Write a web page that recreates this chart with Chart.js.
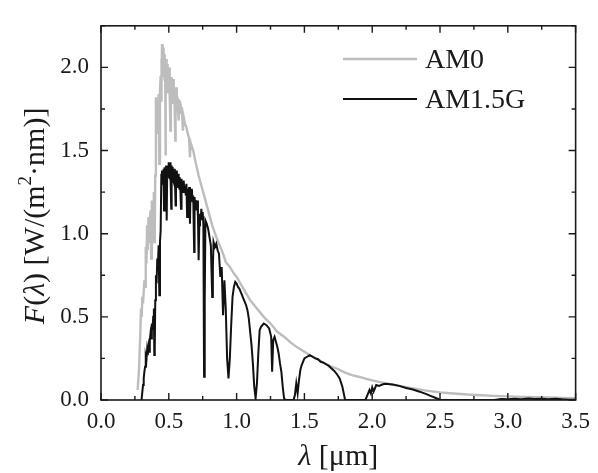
<!DOCTYPE html>
<html>
<head>
<meta charset="utf-8">
<script src="https://cdn.jsdelivr.net/npm/chart.js@4/dist/chart.umd.min.js"></script>
<style>
  html, body { margin: 0; padding: 0; background: #fff; }
  #wrap { width: 598px; height: 473px; }
</style>
</head>
<body>
<div id="wrap"><canvas id="c" width="598" height="473"></canvas></div>
<script>
// Extraterrestrial solar spectrum (AM0), wavelength in µm, irradiance in W/(m²·nm)
const wavelengthAM0 = [
  0.270, 0.280, 0.290, 0.295, 0.300, 0.305, 0.310, 0.320, 0.325, 0.330,
  0.335, 0.340, 0.345, 0.350, 0.355, 0.360, 0.365, 0.370, 0.375, 0.380,
  0.385, 0.390, 0.393, 0.396, 0.397, 0.400, 0.405, 0.410, 0.415, 0.420,
  0.425, 0.430, 0.435, 0.440, 0.443, 0.445, 0.448, 0.450, 0.453, 0.455,
  0.458, 0.460, 0.463, 0.465, 0.468, 0.470, 0.473, 0.476, 0.478, 0.480,
  0.483, 0.485, 0.488, 0.490, 0.493, 0.495, 0.498, 0.500, 0.503, 0.505,
  0.508, 0.512, 0.515, 0.518, 0.520, 0.523, 0.525, 0.528, 0.530, 0.533,
  0.535, 0.538, 0.540, 0.543, 0.548, 0.550, 0.555, 0.558, 0.560, 0.563,
  0.565, 0.568, 0.572, 0.575, 0.580, 0.585, 0.590, 0.597, 0.604, 0.610,
  0.620, 0.630, 0.640, 0.650, 0.656, 0.660, 0.680,
  0.700, 0.720, 0.740, 0.760, 0.780, 0.800, 0.820, 0.850, 0.870, 0.900,
  0.920, 0.950, 0.980, 1.000, 1.050, 1.100, 1.150, 1.200, 1.250, 1.300,
  1.350, 1.400, 1.450, 1.500, 1.550, 1.600, 1.650, 1.700, 1.750, 1.800,
  1.850, 1.900, 1.950, 2.000, 2.100, 2.200, 2.300, 2.400, 2.500, 2.600,
  2.700, 2.800, 2.900, 3.000, 3.100, 3.200, 3.300, 3.400, 3.500
];
const fluxAM0 = [
  0.06, 0.18, 0.40, 0.55, 0.50, 0.62, 0.58, 0.72, 0.68, 0.92,
  0.82, 1.05, 0.90, 1.10, 0.95, 1.08, 1.14, 0.85, 1.20, 1.10,
  1.08, 1.25, 0.95, 1.12, 1.00, 1.35, 1.82, 1.60, 1.80, 1.72,
  1.84, 1.42, 1.86, 1.95, 1.80, 2.05, 1.92, 2.14, 2.00, 2.10,
  1.95, 2.12, 1.98, 2.06, 1.92, 2.08, 1.95, 1.47, 1.98, 2.05,
  1.90, 1.98, 1.85, 2.02, 1.88, 1.98, 1.86, 1.96, 1.85, 2.00,
  1.84, 1.62, 1.90, 1.82, 1.94, 1.80, 1.92, 1.78, 1.90, 1.80,
  1.93, 1.78, 1.87, 1.76, 1.56, 1.80, 1.88, 1.76, 1.84, 1.75,
  1.82, 1.74, 1.68, 1.80, 1.79, 1.72, 1.76, 1.73, 1.62, 1.70,
  1.66, 1.64, 1.60, 1.57, 1.46, 1.55, 1.50,
  1.42, 1.35, 1.29, 1.23, 1.17, 1.11, 1.05, 0.98, 0.94, 0.88,
  0.83, 0.80, 0.76, 0.74, 0.67, 0.60, 0.55, 0.50, 0.46, 0.41,
  0.38, 0.345, 0.315, 0.29, 0.265, 0.245, 0.22, 0.20, 0.185, 0.165,
  0.15, 0.14, 0.128, 0.118, 0.10, 0.085, 0.07, 0.056, 0.046, 0.039,
  0.033, 0.029, 0.025, 0.022, 0.019, 0.017, 0.015, 0.013, 0.011
];

// Terrestrial global tilt spectrum (AM1.5G)
const wavelengthAM15G = [
  0.295, 0.300, 0.305, 0.310, 0.315, 0.320, 0.325, 0.330, 0.335, 0.340,
  0.345, 0.350, 0.355, 0.360, 0.365, 0.370, 0.375, 0.380, 0.385, 0.390,
  0.393, 0.396, 0.397, 0.400, 0.405, 0.410, 0.415, 0.420, 0.425, 0.430,
  0.435, 0.440, 0.445, 0.448, 0.450, 0.453, 0.455, 0.458, 0.460, 0.463,
  0.465, 0.468, 0.470, 0.473, 0.475, 0.478, 0.480, 0.483, 0.486, 0.488,
  0.490, 0.493, 0.495, 0.498, 0.500, 0.503, 0.505, 0.508, 0.510, 0.513,
  0.518, 0.520, 0.522, 0.525, 0.527, 0.530, 0.533, 0.535, 0.538, 0.540,
  0.543, 0.545, 0.550, 0.553, 0.555, 0.558, 0.560, 0.563, 0.565, 0.568,
  0.570, 0.573, 0.575, 0.578, 0.580, 0.585, 0.590, 0.593, 0.595, 0.598,
  0.600, 0.605, 0.610, 0.615, 0.620, 0.625, 0.630, 0.635, 0.640, 0.645,
  0.650, 0.656, 0.660, 0.665, 0.670, 0.675, 0.680, 0.687, 0.690, 0.695,
  0.700, 0.705, 0.710, 0.715, 0.720, 0.725, 0.730, 0.735, 0.740, 0.745,
  0.750, 0.755, 0.760, 0.765, 0.770, 0.780, 0.790, 0.800, 0.810, 0.820,
  0.825, 0.830, 0.840, 0.850, 0.860, 0.870, 0.880, 0.890, 0.900, 0.910,
  0.920, 0.930, 0.940, 0.950, 0.960, 0.970, 0.980, 0.990, 1.000, 1.010,
  1.020, 1.030, 1.040, 1.050, 1.060, 1.070, 1.080, 1.090, 1.100, 1.110,
  1.120, 1.130, 1.140, 1.150, 1.160, 1.170, 1.180, 1.200, 1.220, 1.240,
  1.255, 1.262, 1.270, 1.280, 1.300, 1.310, 1.320, 1.330, 1.340, 1.350,
  1.360, 1.420, 1.430, 1.440, 1.450, 1.460, 1.470, 1.480, 1.500, 1.520,
  1.540, 1.560, 1.580, 1.600, 1.620, 1.640, 1.660, 1.680, 1.700, 1.720,
  1.740, 1.760, 1.780, 1.795, 1.800, 1.950, 1.960, 1.980, 1.990, 2.000,
  2.010, 2.030, 2.050, 2.080, 2.100, 2.150, 2.200, 2.250, 2.300, 2.350,
  2.400, 2.430, 2.460, 2.490, 2.500, 2.900, 2.950, 3.000, 3.050, 3.100,
  3.150, 3.200, 3.250, 3.300, 3.350, 3.400, 3.450, 3.500
];
const fluxAM15G = [
  0.00, 0.01, 0.05, 0.09, 0.13, 0.17, 0.20, 0.26, 0.24, 0.30,
  0.27, 0.32, 0.29, 0.36, 0.40, 0.37, 0.46, 0.42, 0.50, 0.55,
  0.27, 0.45, 0.30, 0.60, 0.75, 0.70, 0.85, 0.82, 0.93, 0.63,
  0.95, 1.02, 1.36, 1.30, 1.38, 1.31, 1.36, 1.30, 1.39, 1.32,
  1.14, 1.35, 1.40, 1.33, 1.38, 1.32, 1.41, 1.34, 1.08, 1.36,
  1.40, 1.33, 1.38, 1.34, 1.43, 1.35, 1.40, 1.34, 1.43, 1.33,
  1.15, 1.36, 1.41, 1.33, 1.38, 1.40, 1.32, 1.37, 1.31, 1.39,
  1.31, 1.36, 1.17, 1.34, 1.38, 1.30, 1.37, 1.30, 1.34, 1.28,
  1.36, 1.29, 1.32, 1.27, 1.34, 1.27, 1.15, 1.30, 1.33, 1.26,
  1.31, 1.25, 1.32, 1.25, 1.29, 1.23, 1.30, 1.10, 1.27, 1.22,
  1.28, 1.06, 1.26, 1.20, 1.27, 1.19, 1.23, 0.89, 1.22, 1.16,
  1.20, 1.14, 1.20, 1.10, 0.84, 1.05, 1.12, 1.08, 1.15, 1.09,
  1.13, 1.05, 0.14, 0.60, 1.08, 1.06, 1.03, 0.98, 0.93, 0.62,
  0.80, 0.95, 0.92, 0.94, 0.90, 0.88, 0.74, 0.80, 0.51, 0.72,
  0.55, 0.25, 0.13, 0.25, 0.45, 0.62, 0.68, 0.71, 0.70, 0.68,
  0.67, 0.65, 0.63, 0.61, 0.59, 0.57, 0.54, 0.49, 0.41, 0.33,
  0.22, 0.08, 0.01, 0.10, 0.28, 0.42, 0.44, 0.46, 0.45, 0.43,
  0.38, 0.17, 0.36, 0.38, 0.32, 0.28, 0.22, 0.17, 0.08, 0.01,
  0.00, 0.00, 0.03, 0.10, 0.04, 0.12, 0.18, 0.21, 0.25, 0.26,
  0.27, 0.26, 0.25, 0.245, 0.23, 0.225, 0.215, 0.205, 0.19, 0.175,
  0.155, 0.13, 0.08, 0.02, 0.00, 0.00, 0.02, 0.06, 0.04, 0.075,
  0.05, 0.09, 0.085, 0.095, 0.097, 0.093, 0.085, 0.072, 0.063, 0.05,
  0.035, 0.025, 0.015, 0.005, 0.00, 0.00, 0.006, 0.004, 0.008, 0.005,
  0.009, 0.006, 0.008, 0.005, 0.007, 0.004, 0.002, 0.001
];

const seriesNames = ['AM0', 'AM1.5G'];
const seriesColors = ['#bdbdbd', '#111111'];

// Axis extents and tick steps
const xRange = [0, 3.5];
const yRange = [0, 2.25];
const xMajorStep = 0.5, xMinorStep = 0.25;
const yMajorStep = 0.5, yMinorStep = 0.25;

const serif = '"Liberation Serif", "Times New Roman", serif';
const ink = '#1a1a1a';

function pairs(xs, ys) { return xs.map((x, i) => ({ x: x, y: ys[i] })); }
function isMajor(v, step) { return Math.abs(v / step - Math.round(v / step)) < 1e-6; }

// Frame plus inward tick marks on all four sides
const framePlugin = {
  id: 'frame',
  afterDraw(chart) {
    const { ctx, chartArea: a, scales } = chart;
    ctx.save();
    ctx.strokeStyle = ink;
    ctx.lineWidth = 1.6;
    ctx.strokeRect(a.left, a.top, a.right - a.left, a.bottom - a.top);
    ctx.lineWidth = 1.4;
    scales.x.ticks.forEach(t => {
      const px = scales.x.getPixelForValue(t.value);
      const len = isMajor(t.value, xMajorStep) ? 7 : 4;
      ctx.beginPath();
      ctx.moveTo(px, a.bottom); ctx.lineTo(px, a.bottom - len);
      ctx.moveTo(px, a.top); ctx.lineTo(px, a.top + len);
      ctx.stroke();
    });
    scales.y.ticks.forEach(t => {
      const py = scales.y.getPixelForValue(t.value);
      const len = isMajor(t.value, yMajorStep) ? 7 : 4;
      ctx.beginPath();
      ctx.moveTo(a.left, py); ctx.lineTo(a.left + len, py);
      ctx.moveTo(a.right, py); ctx.lineTo(a.right - len, py);
      ctx.stroke();
    });
    ctx.restore();
  }
};

// Draws a run of text pieces, each with its own style
function drawRich(ctx, pieces, x, y) {
  let total = 0;
  pieces.forEach(p => { ctx.font = p.font; p.w = ctx.measureText(p.text).width; total += p.w; });
  let cx = x - total / 2;
  pieces.forEach(p => {
    ctx.font = p.font;
    ctx.fillText(p.text, cx, y + (p.dy || 0));
    cx += p.w;
  });
}

// Axis titles with italic symbols and a superscript
const titlePlugin = {
  id: 'titles',
  afterDraw(chart) {
    const { ctx, chartArea: a } = chart;
    const reg = '30px ' + serif, ita = 'italic 30px ' + serif, sup = '19px ' + serif;
    ctx.save();
    ctx.fillStyle = ink;
    ctx.textBaseline = 'alphabetic';
    ctx.textAlign = 'left';
    drawRich(ctx, [
      { text: 'λ', font: ita },
      { text: ' [μm]', font: reg }
    ], (a.left + a.right) / 2, 465);
    ctx.translate(44, (a.top + a.bottom) / 2 + 3);
    ctx.rotate(-Math.PI / 2);
    drawRich(ctx, [
      { text: 'F', font: ita },
      { text: '(', font: reg },
      { text: 'λ', font: ita },
      { text: ') [W/(m', font: reg },
      { text: '2', font: sup, dy: -13 },
      { text: '·nm)]', font: reg }
    ], 0, 0);
    ctx.restore();
  }
};

// Legend drawn inside the plot area, upper right
const legendPlugin = {
  id: 'insideLegend',
  afterDraw(chart) {
    const { ctx } = chart;
    const rows = [59, 99];
    ctx.save();
    chart.data.datasets.forEach((ds, i) => {
      ctx.strokeStyle = ds.borderColor;
      ctx.lineWidth = ds.borderWidth;
      ctx.beginPath();
      ctx.moveTo(343, rows[i]); ctx.lineTo(417, rows[i]);
      ctx.stroke();
      ctx.fillStyle = ink;
      ctx.font = '28px ' + serif;
      ctx.textBaseline = 'middle';
      ctx.textAlign = 'left';
      ctx.fillText(ds.label, 425, rows[i] + 2);
    });
    ctx.restore();
  }
};

new Chart(document.getElementById('c'), {
  type: 'line',
  data: {
    datasets: [
      {
        label: seriesNames[0],
        data: pairs(wavelengthAM0, fluxAM0),
        borderColor: seriesColors[0],
        borderWidth: 2.4,
        pointRadius: 0,
        tension: 0,
        order: 2
      },
      {
        label: seriesNames[1],
        data: pairs(wavelengthAM15G, fluxAM15G),
        borderColor: seriesColors[1],
        borderWidth: 2,
        pointRadius: 0,
        tension: 0,
        order: 1
      }
    ]
  },
  options: {
    responsive: false,
    animation: false,
    devicePixelRatio: 1,
    layout: { padding: { left: 0, right: 14, top: 5, bottom: 0 } },
    plugins: {
      legend: { display: false },
      tooltip: { enabled: false }
    },
    scales: {
      x: {
        type: 'linear',
        min: xRange[0],
        max: xRange[1],
        grid: { display: false, drawTicks: false },
        border: { display: false },
        afterFit(scale) { scale.height = 73; },
        ticks: {
          stepSize: xMinorStep,
          autoSkip: false,
          maxRotation: 0,
          padding: 8,
          color: ink,
          font: { family: serif, size: 23 },
          callback: v => isMajor(v, xMajorStep) ? v.toFixed(1) : ''
        }
      },
      y: {
        type: 'linear',
        min: yRange[0],
        max: yRange[1],
        grid: { display: false, drawTicks: false },
        border: { display: false },
        afterFit(scale) { scale.width = 101; },
        ticks: {
          stepSize: yMinorStep,
          autoSkip: false,
          padding: 12,
          color: ink,
          font: { family: serif, size: 23 },
          callback: v => isMajor(v, yMajorStep) ? v.toFixed(1) : ''
        }
      }
    }
  },
  plugins: [framePlugin, titlePlugin, legendPlugin]
});
</script>
</body>
</html>
